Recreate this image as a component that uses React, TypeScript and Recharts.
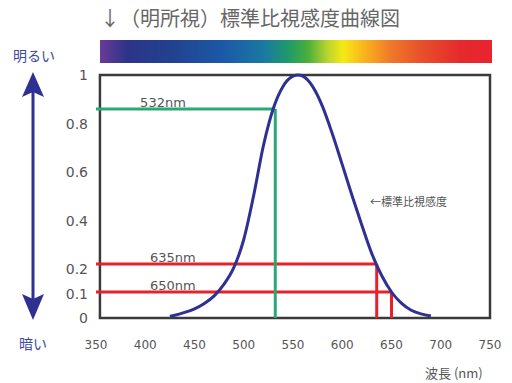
import React from "react";
import {
  LineChart,
  Line,
  XAxis,
  YAxis,
  ReferenceArea,
  ReferenceLine,
  ReferenceDot,
} from "recharts";

// CIE photopic luminous efficiency V(λ)
const wavelengths = [425, 430, 440, 450, 460, 470, 480, 490, 500, 510, 520, 530, 540, 550, 555, 560, 570, 580, 590, 600, 610, 620, 630, 640, 650, 660, 670, 680, 690];
const sensitivity = [0.007, 0.0116, 0.023, 0.038, 0.06, 0.091, 0.139, 0.208, 0.323, 0.503, 0.71, 0.862, 0.954, 0.995, 1.0, 0.995, 0.952, 0.87, 0.757, 0.631, 0.503, 0.381, 0.265, 0.175, 0.107, 0.061, 0.032, 0.017, 0.008];

const xTicks = [350, 400, 450, 500, 550, 600, 650, 700, 750];
const yTicks = [0, 0.1, 0.2, 0.4, 0.6, 0.8, 1];

const markerNm = [532, 635, 650];
const markerLevel = [0.86, 0.222, 0.107];
const markerLabels = ["532nm", "635nm", "650nm"];
const markerColors = ["#2aa876", "#e8202a", "#e8202a"];

const data = wavelengths.map((nm, i) => ({ nm, v: sensitivity[i] }));

const gray = "#555";
const font = "'DejaVu Sans', Verdana, sans-serif";
const jp = "'Noto Sans CJK JP', sans-serif";

export default function App() {
  return (
    <div style={{ position: "absolute", left: 0, top: 0, width: 512, height: 383, background: "#fff" }}>
      <div style={{ position: "absolute", left: 100, top: 4, fontFamily: jp, fontSize: 20, color: "#666", whiteSpace: "nowrap", lineHeight: "28px" }}>
        ↓（明所視）標準比視感度曲線図
      </div>
      <div
        style={{
          position: "absolute",
          left: 100,
          top: 40,
          width: 392,
          height: 23,
          background:
            "linear-gradient(to right, #6a3a98 0%, #2c3488 7%, #22418f 18%, #1c5aa8 32%, #1a7aa0 42%, #1f9a6a 48%, #4aae3a 53%, #b8d430 58%, #f5ea14 62%, #f8b81c 67%, #f07a28 74%, #e8502c 82%, #e42a2c 92%, #ea2230 100%)",
        }}
      />
      <div style={{ position: "absolute", left: 13, top: 45, fontFamily: jp, fontSize: 14, color: "#3d4aa0", lineHeight: "20px" }}>明るい</div>
      <div style={{ position: "absolute", left: 19, top: 333, fontFamily: jp, fontSize: 14, color: "#3d4aa0", lineHeight: "20px" }}>暗い</div>
      <svg style={{ position: "absolute", left: 0, top: 0 }} width={60} height={383}>
        <line x1={33} y1={90} x2={33} y2={302} stroke="#2e3192" strokeWidth={3} />
        <polygon points="33,72 44,97 33,92 22,97" fill="#2e3192" />
        <polygon points="33,320 44,294 33,299 22,294" fill="#2e3192" />
      </svg>
      <div style={{ position: "absolute", left: 370, top: 193, fontFamily: jp, fontSize: 11, color: gray, lineHeight: "16px" }}>←標準比視感度</div>
      <div style={{ position: "absolute", left: 425, top: 364, fontFamily: jp, fontSize: 13, color: gray, lineHeight: "18px" }}>波長 (nm)</div>
      <LineChart
        width={512}
        height={383}
        data={data}
        margin={{ top: 75, right: 22, bottom: 35, left: 56 }}
        style={{ position: "absolute", left: 0, top: 0 }}
      >
        <XAxis
          dataKey="nm"
          type="number"
          domain={[350, 750]}
          ticks={xTicks}
          height={30}
          axisLine={false}
          tickLine={false}
          tickSize={0}
          tickMargin={22}
          tick={{ fill: gray, fontSize: 12, fontFamily: font }}
          allowDataOverflow
        />
        <YAxis
          type="number"
          domain={[0, 1]}
          ticks={yTicks}
          width={40}
          axisLine={false}
          tickLine={false}
          tickSize={0}
          tickMargin={8}
          tick={{ fill: gray, fontSize: 14, fontFamily: font }}
          interval={0}
        />
        <ReferenceArea x1={354} x2={750} y1={0} y2={1} fill="none" stroke="#3a3a3a" strokeWidth={2.5} />
        {markerNm.map((nm, i) => (
          <ReferenceLine
            key={"h" + nm}
            segment={[{ x: 350, y: markerLevel[i] }, { x: nm, y: markerLevel[i] }]}
            stroke={markerColors[i]}
            strokeWidth={3}
          />
        ))}
        {markerNm.map((nm, i) => (
          <ReferenceLine
            key={"v" + nm}
            segment={[{ x: nm, y: 0 }, { x: nm, y: markerLevel[i] }]}
            stroke={markerColors[i]}
            strokeWidth={3}
          />
        ))}
        <Line
          type="monotone"
          dataKey="v"
          stroke="#2e3192"
          strokeWidth={3}
          dot={false}
          isAnimationActive={false}
        />
        {markerNm.map((nm, i) => (
          <ReferenceDot
            key={"l" + nm}
            x={i === 0 ? 418 : 428}
            y={markerLevel[i]}
            r={0}
            fill="none"
            stroke="none"
            label={{ value: markerLabels[i], position: "top", offset: 2, fill: gray, fontSize: 13, fontFamily: font }}
          />
        ))}
      </LineChart>
    </div>
  );
}
